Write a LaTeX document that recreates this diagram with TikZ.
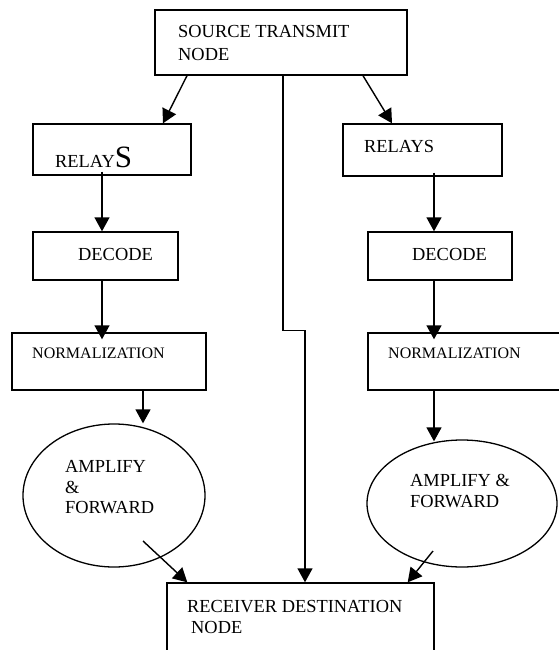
\documentclass[tikz,border=0pt]{standalone}
\usepackage{fontspec}
\setmainfont{Liberation Serif}
\usetikzlibrary{arrows.meta,shapes.geometric}
\tikzset{
  box/.style={draw, line width=1.4pt, rectangle, inner sep=0pt},
  oval/.style={draw, line width=1.3pt, ellipse, inner sep=0pt},
  txt/.style={anchor=base west, inner sep=0pt, font=\fontsize{18.4}{22}\selectfont},
  smalltxt/.style={anchor=base west, inner sep=0pt, font=\fontsize{16}{19}\selectfont},
  arr/.style={line width=1.4pt, -{Triangle[length=14pt,width=15pt]}}
}
\begin{document}
\begin{tikzpicture}[x=1pt,y=-1pt]
\useasboundingbox (0,0) rectangle (558,650);
% boxes
\node[box, minimum width=252pt, minimum height=65pt] (src) at (281,42.5) {};
\node[box, minimum width=158pt, minimum height=51pt] (relL) at (112,149.5) {};
\node[box, minimum width=159pt, minimum height=52pt] (relR) at (422.5,150) {};
\node[box, minimum width=145pt, minimum height=48pt] (decL) at (105.5,256) {};
\node[box, minimum width=144pt, minimum height=48pt] (decR) at (440,256) {};
\node[box, minimum width=194pt, minimum height=57pt] (normL) at (109,361.5) {};
\node[box, minimum width=194pt, minimum height=57pt] (normR) at (465,361.5) {};
\node[oval, minimum width=182pt, minimum height=143pt] (ellL) at (114,495.5) {};
\node[oval, minimum width=190pt, minimum height=127pt] (ellR) at (462,503.5) {};
\node[box, minimum width=267pt, minimum height=80pt] (dest) at (300.5,623) {};
% texts
\node[txt] (t1) at (178,38) {SOURCE TRANSMIT};
\node[txt] (t2) at (178,61) {NODE};
\node[txt] (t3) at (55,167) {RELAY\fontsize{31}{31}\selectfont S};
\node[txt] (t4) at (364,153) {RELAYS};
\node[txt] (t5) at (78,260) {DECODE};
\node[txt] (t6) at (412,260) {DECODE};
\node[smalltxt] (t7) at (32,358) {NORMALIZATION};
\node[smalltxt] (t8) at (388,358) {NORMALIZATION};
\node[txt] (t9) at (65,472) {AMPLIFY};
\node[txt] (t10) at (65,493) {\&};
\node[txt] (t11) at (65,513) {FORWARD};
\node[txt] (t12) at (410,486) {AMPLIFY \&};
\node[txt] (t13) at (410,507) {FORWARD};
\node[txt] (t14) at (187,612) {RECEIVER DESTINATION};
\node[txt] (t15) at (191,633) {NODE};
% connectors
\draw[arr] ([xshift=-94pt]src.south) -- ([xshift=51pt]relL.north);
\draw[arr] ([xshift=82pt]src.south) -- ([xshift=-30.5pt]relR.north);
\draw[arr] ([xshift=2pt]src.south) -- ++(0,255) -- ++(22,0) -- ([xshift=4.5pt]dest.north);
\draw[arr] ([xshift=-10pt,yshift=4pt]relL.south) -- ([xshift=-3.5pt]decL.north);
\draw[arr] ([xshift=-3.5pt]decL.south) -- ([xshift=-7pt,yshift=-7pt]normL.north);
\draw[arr] ([xshift=34pt]normL.south) -- ([xshift=29pt]ellL.north);
\draw[arr] ([xshift=11.5pt,yshift=4pt]relR.south) -- ([xshift=-6pt]decR.north);
\draw[arr] ([xshift=-6pt]decR.south) -- ([xshift=-31pt,yshift=-7pt]normR.north);
\draw[arr] ([xshift=-31pt]normR.south) -- ([xshift=-28pt,yshift=-2pt]ellR.north);
\draw[arr] ([shift={(29,45.5)}]ellL.center) -- ([xshift=21pt]dest.north west);
\draw[arr] ([shift={(-29,47.5)}]ellR.center) -- ([xshift=-27pt]dest.north east);
\end{tikzpicture}
\end{document}
